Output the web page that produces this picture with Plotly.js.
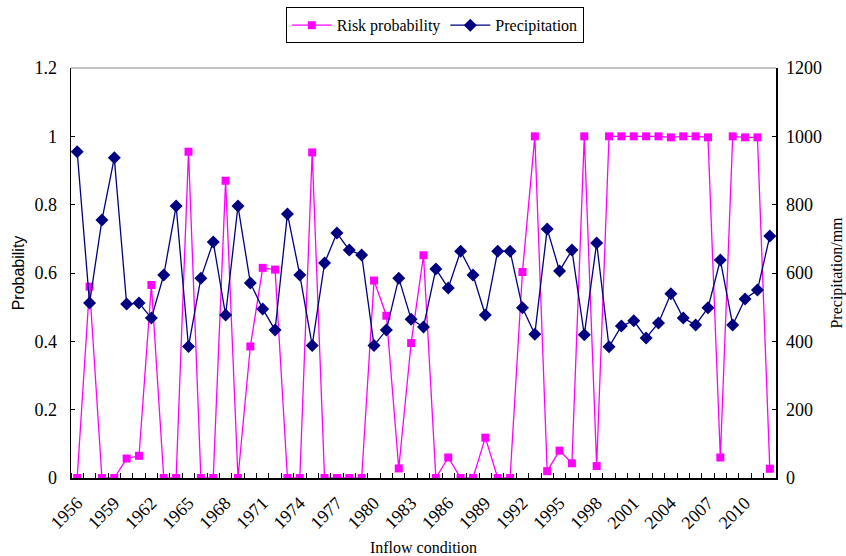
<!DOCTYPE html>
<html>
<head>
<meta charset="utf-8">
<script src="https://cdn.plot.ly/plotly-3.0.1.min.js"></script>
<style>html,body{margin:0;padding:0;background:#fff;}#chart{width:846px;height:556px;}</style>
</head>
<body>
<div id="chart"></div>
<script>
const years = [];
for (let y = 1956; y <= 2012; y++) years.push(y);

const riskProbability = [
  0, 0.56, 0, 0, 0.057, 0.065, 0.565, 0, 0, 0.955,
  0, 0, 0.87, 0, 0.385, 0.615, 0.61, 0, 0, 0.953,
  0, 0, 0, 0, 0.578, 0.475, 0.028, 0.395, 0.652, 0,
  0.06, 0, 0, 0.118, 0, 0, 0.603, 1.0, 0.02, 0.08,
  0.043, 1.0, 0.035, 1.0, 1.0, 1.0, 1.0, 1.0, 0.997, 1.0,
  1.0, 0.997, 0.06, 1.0, 0.997, 0.997, 0.027
];

const precipitation = [
  955, 512, 755, 937, 509, 512, 468, 594, 796, 385,
  585, 691, 477, 796, 571, 495, 433, 773, 594, 388,
  629, 717, 667, 653, 388, 433, 585, 465, 442, 612,
  556, 664, 594, 477, 664, 664, 498, 421, 729, 606,
  667, 419, 688, 384, 445, 460, 410, 454, 539, 468,
  448, 498, 638, 448, 524, 550, 708
];

const tickYears = [];
for (let y = 1956; y <= 2010; y += 3) tickYears.push(y);

const serif = "Liberation Serif, Times New Roman, serif";

const traces = [
  {
    x: years, y: riskProbability, name: "Risk probability",
    type: "scatter", mode: "lines+markers",
    line: {color: "#FF00FF", width: 1.3},
    marker: {symbol: "square", size: 8, color: "#FF00FF"},
    yaxis: "y"
  },
  {
    x: years, y: precipitation, name: "Precipitation",
    type: "scatter", mode: "lines+markers",
    line: {color: "#000080", width: 1.3},
    marker: {symbol: "diamond", size: 10, color: "#000080"},
    yaxis: "y2"
  }
];

const layout = {
  width: 846, height: 556,
  margin: {l: 71, r: 70, t: 68, b: 78, autoexpand: false},
  paper_bgcolor: "#fff", plot_bgcolor: "#fff",
  font: {family: serif, size: 16, color: "#000"},
  showlegend: true,
  legend: {
    orientation: "h", x: 0.516, xanchor: "center", y: 1.148, yanchor: "top",
    bordercolor: "#000", borderwidth: 1, font: {family: serif, size: 16},
    itemwidth: 40, tracegroupgap: 0
  },
  xaxis: {
    range: [1955.5, 2012.5], showgrid: false, zeroline: false, automargin: false,
    showline: true, linecolor: "#000", linewidth: 1.5,
    tickmode: "array", tickvals: tickYears, ticktext: tickYears.map(String),
    ticks: "", tickangle: -45, ticklabelstandoff: 6,
    minor: {tick0: 1955.5, dtick: 1, ticks: "inside", ticklen: 5, tickcolor: "#000", showgrid: false},
    tickfont: {family: serif, size: 18},
    title: {text: "Inflow condition", font: {family: serif, size: 16}, standoff: 10}
  },
  yaxis: {
    range: [0, 1.2], dtick: 0.2, tick0: 0, showgrid: false, zeroline: false, automargin: false,
    showline: true, linecolor: "#000", linewidth: 1.5,
    ticks: "inside", ticklen: 4, tickcolor: "#000", ticklabelstandoff: 9,
    tickfont: {family: serif, size: 18},
    title: {text: "Probability", font: {family: "Liberation Sans, Arial, sans-serif", size: 16}, standoff: 6}
  },
  yaxis2: {
    range: [0, 1200], dtick: 200, tick0: 0, overlaying: "y", side: "right",
    showgrid: false, zeroline: false, automargin: false,
    showline: true, linecolor: "#000", linewidth: 1.5,
    ticks: "inside", ticklen: 4, tickcolor: "#000", ticklabelstandoff: 5,
    tickfont: {family: serif, size: 18},
    title: {text: "Precipitation/mm", font: {family: serif, size: 16}, standoff: 12}
  },
  shapes: [
    {type: "line", xref: "paper", yref: "paper", x0: 0, x1: 1, y0: 1, y1: 1,
     line: {color: "#888", width: 1.2}}
  ]
};

Plotly.newPlot("chart", traces, layout, {displayModeBar: false, staticPlot: true});
</script>
</body>
</html>
